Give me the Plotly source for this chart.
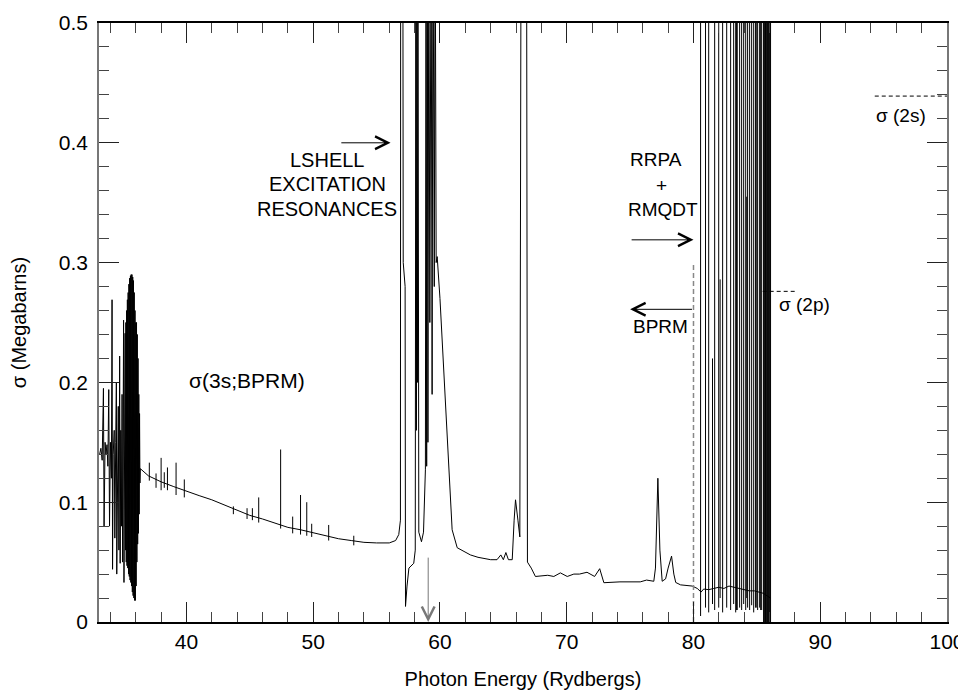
import plotly.graph_objects as go

# ---------------- data ----------------
# main cross-section curve (Photon energy in Ry, sigma in Mb)
curve_x = [
    33.15, 33.25, 33.35, 33.45, 33.50, 33.58, 33.65, 33.73, 33.80, 33.87,
    33.93, 34.00, 34.08, 34.13, 34.17, 34.22, 34.30, 34.35, 34.42, 34.47,
    34.50, 34.56, 34.62, 34.67, 34.73, 34.77, 34.82, 34.87, 34.92, 34.96,
    35.00, 35.04, 35.07, 35.10, 35.13, 35.16, 35.19, 35.22, 35.25, 35.28,
    35.31, 35.34, 35.37, 35.40, 35.43, 35.46, 35.49, 35.52, 35.55, 35.58,
    35.61, 35.64, 35.67, 35.70, 35.73, 35.76, 35.79, 35.82, 35.85, 35.88,
    35.91, 35.94, 35.97, 36.00, 36.03, 36.06, 36.09, 36.12, 36.15, 36.18,
    36.21, 36.24, 36.27, 36.30, 36.33, 36.36,
    37.0, 38.0, 39.0, 40.0, 41.0, 42.0, 43.0, 44.0, 45.0, 46.0, 47.0,
    48.0, 49.0, 50.0, 51.0, 52.0, 53.0, 54.0, 55.0, 56.0, 56.5, 56.75,
    56.88, 56.90, 57.07, 57.10, 57.25, 57.28, 57.40, 57.55, 57.93, 58.05,
    58.10, 58.14, 58.18, 58.22, 58.26, 58.33, 58.54, 58.70, 58.85, 58.90,
    58.95, 59.00, 59.05, 59.12, 59.20, 59.30, 59.38, 59.45, 59.55, 59.62,
    59.70, 59.78, 60.00, 60.30, 60.50, 60.70, 60.96, 61.36, 62.00, 62.40,
    63.00, 64.00, 64.50, 64.80, 65.00, 65.20, 65.40, 65.70, 65.85, 65.96,
    66.15, 66.30, 66.40, 66.83, 66.90, 67.20, 67.53, 67.93, 68.50, 68.98,
    69.50, 70.04, 70.56, 71.00, 71.60, 72.20, 72.60, 72.93, 74.20, 75.80,
    76.30, 76.87, 77.00, 77.19, 77.35, 77.53, 77.80, 78.00, 78.27, 78.45,
    78.60, 78.98, 79.90, 80.30, 80.60, 80.80, 81.20, 81.60, 82.00, 82.40,
    82.80, 83.20, 83.60, 84.00, 84.40, 84.80, 85.20, 85.50, 86.08,
]
curve_y = [
    0.140, 0.145, 0.135, 0.195, 0.080, 0.150, 0.140, 0.148, 0.130, 0.194,
    0.080, 0.150, 0.120, 0.269, 0.044, 0.140, 0.160, 0.070, 0.150, 0.200,
    0.040, 0.130, 0.180, 0.060, 0.222, 0.049, 0.160, 0.080, 0.190, 0.050,
    0.170, 0.252, 0.033, 0.200, 0.050, 0.241, 0.060, 0.250, 0.050, 0.260,
    0.047, 0.269, 0.045, 0.275, 0.040, 0.282, 0.038, 0.287, 0.035, 0.289,
    0.033, 0.290, 0.030, 0.290, 0.025, 0.288, 0.022, 0.285, 0.020, 0.275,
    0.018, 0.260, 0.018, 0.250, 0.030, 0.250, 0.050, 0.240, 0.065, 0.220,
    0.074, 0.190, 0.090, 0.174, 0.116, 0.128,
    0.122, 0.117, 0.113, 0.109, 0.1055, 0.102, 0.0975, 0.093, 0.089, 0.086, 0.0825,
    0.079, 0.077, 0.0745, 0.072, 0.0695, 0.068, 0.0665, 0.066, 0.066, 0.068, 0.073,
    0.085, 0.600, 0.600, 0.300, 0.280, 0.013, 0.030, 0.045, 0.049, 0.060,
    0.600, 0.160, 0.600, 0.200, 0.600, 0.075, 0.067, 0.075, 0.127, 0.600,
    0.130, 0.600, 0.150, 0.600, 0.250, 0.600, 0.190, 0.600, 0.280, 0.600,
    0.300, 0.305, 0.270, 0.213, 0.170, 0.130, 0.077, 0.062, 0.058, 0.056,
    0.054, 0.052, 0.052, 0.056, 0.052, 0.058, 0.052, 0.052, 0.085, 0.102,
    0.085, 0.071, 0.600, 0.600, 0.050, 0.045, 0.038, 0.0386, 0.039, 0.038,
    0.041, 0.038, 0.040, 0.040, 0.0415, 0.038, 0.0445, 0.0328, 0.0335, 0.0335,
    0.035, 0.034, 0.045, 0.120, 0.060, 0.034, 0.036, 0.045, 0.055, 0.040,
    0.033, 0.031, 0.030, 0.028, 0.025, 0.0275, 0.027, 0.028, 0.029, 0.028,
    0.030, 0.029, 0.028, 0.027, 0.026, 0.026, 0.025, 0.024, 0.020,
]

# narrow resonances drawn as vertical strokes: position, lower end, upper end
spike_x = [
    37.07, 37.60, 38.00, 38.25, 38.50, 39.18, 39.83, 43.70, 44.78, 45.20,
    45.70, 47.43, 48.38, 49.00, 49.49, 49.88, 51.22, 53.20,
    80.56, 80.95, 81.20, 81.50, 81.67, 81.99, 82.10, 82.30, 82.62, 82.93,
    83.17, 83.33, 83.40, 83.45, 83.64, 83.80, 83.96, 84.12, 84.20, 84.27,
    84.43, 84.59, 84.75, 84.90, 84.95, 85.06, 85.22, 85.30, 85.38,
    85.53, 85.58, 85.63, 85.68, 85.73, 85.78, 85.83, 85.88, 85.93, 85.98,
    86.03, 86.08,
]
spike_lo = [
    0.118, 0.112, 0.110, 0.112, 0.110, 0.106, 0.104, 0.090, 0.086, 0.085,
    0.083, 0.078, 0.074, 0.073, 0.072, 0.071, 0.068, 0.064,
    0.005, 0.012, 0.008, 0.015, 0.010, 0.012, 0.020, 0.008, 0.012, 0.010,
    0.015, 0.008, 0.010, 0.010, 0.012, 0.010, 0.015, 0.010, 0.020, 0.012,
    0.010, 0.014, 0.008, 0.012, 0.012, 0.010, 0.012, 0.010, 0.010,
    0.0, 0.0, 0.0, 0.0, 0.0, 0.0, 0.0, 0.0, 0.0, 0.0,
    0.0, 0.0,
]
spike_hi = [
    0.133, 0.124, 0.137, 0.125, 0.129, 0.133, 0.119, 0.0965, 0.095, 0.095,
    0.104, 0.144, 0.088, 0.106, 0.100, 0.082, 0.081, 0.072,
    0.6, 0.6, 0.6, 0.22, 0.6, 0.6, 0.286, 0.6, 0.6, 0.6,
    0.6, 0.6, 0.6, 0.6, 0.6, 0.6, 0.6, 0.6, 0.355, 0.6,
    0.6, 0.6, 0.6, 0.6, 0.6, 0.6, 0.6, 0.6, 0.6,
    0.6, 0.6, 0.6, 0.6, 0.6, 0.6, 0.6, 0.6, 0.6, 0.6,
    0.6, 0.6,
]

# reference levels / markers
boundary_x = 80.0          # RRPA+RMQDT / BPRM boundary (dashed)
boundary_top = 0.30
sigma_2p = dict(level=0.276, x0=85.46, x1=88.07)
sigma_2s = dict(level=0.439, x0=94.3, x1=100.0)

x_range = [33.1, 100]
y_range = [0, 0.5]
x_ticks = [40, 50, 60, 70, 80, 90, 100]
y_ticks = [0, 0.1, 0.2, 0.3, 0.4, 0.5]
y_ticklabels = ["0", "0.1", "0.2", "0.3", "0.4", "0.5"]

FONT = "Liberation Sans, Arial, Helvetica, sans-serif"

# ---------------- figure ----------------
fig = go.Figure()

fig.add_trace(go.Scatter(x=curve_x, y=curve_y, mode="lines",
                         line=dict(color="black", width=1), hoverinfo="skip"))

sx, sy = [], []
for xv, lo, hi in zip(spike_x, spike_lo, spike_hi):
    sx += [xv, xv, None]
    sy += [lo, hi, None]
fig.add_trace(go.Scatter(x=sx, y=sy, mode="lines",
                         line=dict(color="black", width=1), hoverinfo="skip"))

# dashed boundary and threshold markers
fig.add_trace(go.Scatter(x=[boundary_x, boundary_x], y=[0, boundary_top], mode="lines",
                         line=dict(color="#888", width=1.5, dash="5px,3px"), hoverinfo="skip"))
for s in (sigma_2p, sigma_2s):
    fig.add_trace(go.Scatter(x=[s["x0"], s["x1"]], y=[s["level"], s["level"]], mode="lines",
                             line=dict(color="black", width=1, dash="4px,3px"), hoverinfo="skip"))

# text labels: (text, x, y, font size)
texts = [
    ("σ(3s;BPRM)", 44.77, 0.202, 21),
    ("LSHELL", 51.1, 0.386, 20),
    ("EXCITATION", 51.1, 0.366, 20),
    ("RESONANCES", 51.1, 0.345, 20),
    ("RRPA", 77.03, 0.386, 19),
    ("+", 77.5, 0.364, 19),
    ("RMQDT", 77.57, 0.344, 19),
    ("BPRM", 77.4, 0.2466, 19),
    ("σ (2p)", 88.78, 0.265, 19),
    ("σ (2s)", 96.35, 0.423, 19),
]
for t, xv, yv, fs in texts:
    fig.add_annotation(x=xv, y=yv, text=t, showarrow=False,
                       font=dict(family=FONT, size=fs, color="black"),
                       xanchor="center", yanchor="middle")

# arrows (head at x,y ; tail at ax,ay)
arrows = [
    (56.1, 0.400, 52.1, 0.400, "black"),
    (80.0, 0.319, 75.0, 0.319, "black"),
    (75.0, 0.261, 80.0, 0.261, "black"),
    (59.07, 0.0, 59.07, 0.055, "#777"),
]
for hx, hy, tx, ty, col in arrows:
    fig.add_annotation(x=hx, y=hy, ax=tx, ay=ty, xref="x", yref="y",
                       axref="x", ayref="y", text="", showarrow=True,
                       arrowhead=5, arrowsize=2.5, arrowwidth=1, arrowcolor=col)

axis_common = dict(showgrid=False, zeroline=False, showline=True, mirror="ticks",
                   ticks="inside", ticklen=20, tickwidth=1.2, tickcolor="#222",
                   tickfont=dict(family=FONT, size=21, color="black"))

fig.update_xaxes(range=x_range, tickvals=x_ticks, linecolor="black", linewidth=1.5,
                 minor=dict(dtick=2, tick0=0, ticks="inside", ticklen=10, tickwidth=1,
                            tickcolor="#444", showgrid=False),
                 title=dict(text="Photon Energy (Rydbergs)", standoff=20,
                            font=dict(family=FONT, size=20, color="black")),
                 **axis_common)
fig.update_yaxes(range=y_range, tickvals=y_ticks, ticktext=y_ticklabels,
                 linecolor="#777", linewidth=1.5, ticklabelstandoff=5,
                 minor=dict(dtick=0.02, tick0=0, ticks="inside", ticklen=10, tickwidth=1,
                            tickcolor="#444", showgrid=False),
                 title=dict(text="σ (Megabarns)", standoff=28,
                            font=dict(family=FONT, size=20, color="black")),
                 **axis_common)

# the page body adds an 8px offset; margins compensate so the plot sits where the reference has it
fig.update_layout(width=966, height=691, showlegend=False,
                  margin=dict(l=91, r=27, t=15, b=77, autoexpand=False),
                  plot_bgcolor="white", paper_bgcolor="white",
                  font=dict(family=FONT, size=19, color="black"))

fig.write_html("out.html")
